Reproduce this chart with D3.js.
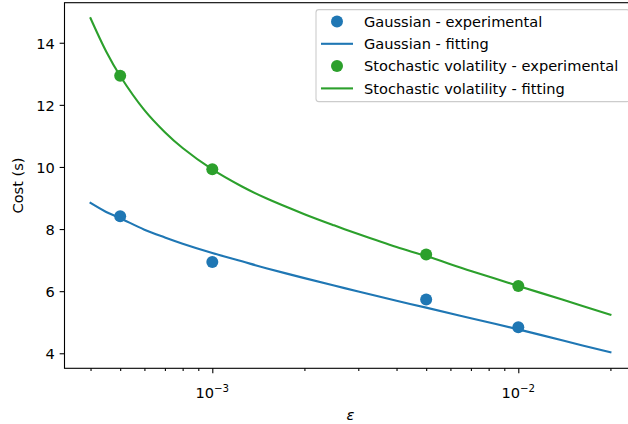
<!DOCTYPE html>
<html>
<head>
<meta charset="utf-8">
<script src="https://cdn.jsdelivr.net/npm/d3@7"></script>
<style>
  html, body { margin: 0; padding: 0; background: #fff; }
  svg { display: block; font-family: "DejaVu Sans", sans-serif; }
</style>
</head>
<body>
<svg id="chart" width="628" height="424"></svg>
<script>
// ---- Data ----
const expEps = [5e-4, 1e-3, 5e-3, 1e-2];
const gaussExp = [8.41, 6.94, 5.73, 4.84];
const svExp = [12.94, 9.93, 7.18, 6.17];

const fitEps = [4e-4, 4.5e-4, 5e-4, 6e-4, 7e-4, 8e-4, 1e-3, 1.25e-3, 1.5e-3, 2e-3, 2.5e-3, 3e-3, 4e-3, 5e-3, 7e-3, 1e-2, 1.4e-2, 2e-2];
const gaussFit = [8.84, 8.55, 8.35, 7.98, 7.73, 7.53, 7.23, 6.96, 6.74, 6.42, 6.18, 5.99, 5.69, 5.47, 5.13, 4.77, 4.41, 4.03];
const svFit    = [14.79, 13.72, 12.93, 11.83, 11.12, 10.61, 9.92, 9.37, 8.99, 8.48, 8.12, 7.84, 7.42, 7.13, 6.65, 6.17, 5.72, 5.24];

const xMajorTicks = [1e-3, 1e-2];
const xMajorExp = ["−3", "−2"];
const xMinorTicks = [4e-4, 5e-4, 6e-4, 7e-4, 8e-4, 9e-4, 2e-3, 3e-3, 4e-3, 5e-3, 6e-3, 7e-3, 8e-3, 9e-3, 2e-2];
const yTicks = [4, 6, 8, 10, 12, 14];

const legendLabels = ["Gaussian - experimental", "Gaussian - fitting",
                      "Stochastic volatility - experimental", "Stochastic volatility - fitting"];

const BLUE = "#1f77b4", GREEN = "#2ca02c";

// ---- Layout ----
const L = 64.5, T = 2.7, B = 368.3;
const D = 306;               // pixels per decade
const xLo = -3.483, xHi = -1.614;
const R = L + (xHi - xLo) * D;

const svg = d3.select("#chart");
const x = d3.scaleLog().domain([Math.pow(10, xLo), Math.pow(10, xHi)]).range([L, R]);
const y = d3.scaleLinear().domain([3.516, 15.29]).range([B, T]);

svg.append("defs").append("clipPath").attr("id", "clip")
  .append("rect").attr("x", L).attr("y", T).attr("width", R - L).attr("height", B - T);

const fs = 14.6;

// ---- Axes ----
const xAxisMajor = d3.axisBottom(x).tickValues(xMajorTicks).tickSize(4.86).tickFormat("");
const xAxisMinor = d3.axisBottom(x).tickValues(xMinorTicks).tickSize(2.78).tickFormat("");
const gxMaj = svg.append("g").attr("transform", `translate(0,${B})`).call(xAxisMajor);
const gxMin = svg.append("g").attr("transform", `translate(0,${B})`).call(xAxisMinor);
[gxMaj, gxMin].forEach(g => {
  g.select(".domain").remove();
  g.selectAll(".tick line").attr("stroke", "#000").attr("stroke-width", 1.1);
});

// major x labels 10^{-n}
xMajorTicks.forEach((t, i) => {
  const txt = svg.append("text")
    .attr("x", x(t)).attr("y", 398)
    .attr("text-anchor", "middle")
    .attr("font-size", fs).attr("fill", "#000");
  txt.append("tspan").text("10");
  txt.append("tspan").attr("dy", -6).attr("font-size", fs * 0.7).text(xMajorExp[i]);
});

const yAxis = d3.axisLeft(y).tickValues(yTicks).tickSize(4.86).tickPadding(4.86).tickFormat(d3.format("d"));
const gy = svg.append("g").attr("transform", `translate(${L},0)`).call(yAxis);
gy.select(".domain").remove();
gy.selectAll(".tick line").attr("stroke", "#000").attr("stroke-width", 1.1);
gy.selectAll(".tick text").attr("font-size", fs).attr("fill", "#000")
  .attr("font-family", "DejaVu Sans").attr("dy", "0.36em");

// labels
svg.append("text").attr("x", (L + R) / 2).attr("y", 419.5)
  .attr("text-anchor", "middle").attr("font-size", fs).attr("font-style", "italic")
  .text("ε");
svg.append("text").attr("transform", `translate(23,${(T + B) / 2}) rotate(-90)`)
  .attr("text-anchor", "middle").attr("font-size", fs).text("Cost (s)");

// ---- Marks ----
const plot = svg.append("g").attr("clip-path", "url(#clip)");
const line = d3.line().x(d => x(d[0])).y(d => y(d[1])).curve(d3.curveCatmullRom.alpha(0.5));

function dots(vals, color) {
  plot.append("g").selectAll("circle").data(expEps.map((e, i) => [e, vals[i]]))
    .join("circle").attr("cx", d => x(d[0])).attr("cy", d => y(d[1]))
    .attr("r", 6).attr("fill", color);
}
function fit(eps, vals, color) {
  plot.append("path").datum(eps.map((e, i) => [e, vals[i]]))
    .attr("d", line).attr("fill", "none").attr("stroke", color)
    .attr("stroke-width", 2.1).attr("stroke-linecap", "square");
}
dots(gaussExp, BLUE);
fit(fitEps, gaussFit, BLUE);
dots(svExp, GREEN);
fit(fitEps, svFit, GREEN);

// ---- Spines ----
const sp = svg.append("g").attr("stroke", "#000").attr("stroke-width", 1.1).attr("fill", "none");
sp.append("rect").attr("x", L).attr("y", T).attr("width", R - L).attr("height", B - T);

// ---- Legend ----
const lgL = 316, lgT = 9.6, lgR = R - 6.9, lgH = 92;
const lg = svg.append("g");
lg.append("rect").attr("x", lgL).attr("y", lgT).attr("width", lgR - lgL).attr("height", lgH)
  .attr("rx", 2.8).attr("fill", "#fff").attr("fill-opacity", 0.8)
  .attr("stroke", "#cccccc").attr("stroke-width", 1.1);
const rowY = [21.5, 43.8, 66.1, 88.4];
const colors = [BLUE, BLUE, GREEN, GREEN];
legendLabels.forEach((lab, i) => {
  if (i % 2 === 0) {
    lg.append("circle").attr("cx", 337).attr("cy", rowY[i]).attr("r", 6).attr("fill", colors[i]);
  } else {
    lg.append("line").attr("x1", 321).attr("x2", 353).attr("y1", rowY[i]).attr("y2", rowY[i])
      .attr("stroke", colors[i]).attr("stroke-width", 2.1);
  }
  lg.append("text").attr("x", 364).attr("y", rowY[i]).attr("dy", "0.36em")
    .attr("font-size", fs).attr("fill", "#000").text(lab);
});
</script>
</body>
</html>
